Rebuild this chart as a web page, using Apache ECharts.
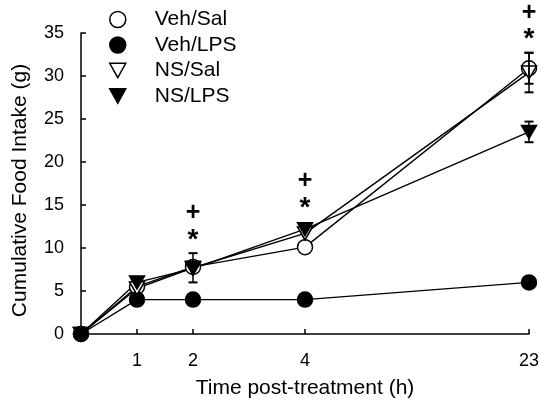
<!DOCTYPE html>
<html><head><meta charset="utf-8">
<script src="https://cdn.jsdelivr.net/npm/echarts@6/dist/echarts.min.js"></script>
<style>html,body{margin:0;padding:0;background:#fff}#c{width:541px;height:401px}</style>
</head><body><div id="c"></div>
<script>
// ---- data ----
const hours = [0, 1, 2, 4, 23];
const tickHours = [1, 2, 4, 23];
const seriesNames = ['Veh/Sal', 'Veh/LPS', 'NS/Sal', 'NS/LPS'];
const vehSal = [0, 5.5, 7.8, 10.1, 30.9];
const vehSalSem = [null, null, null, null, 1.8];
const vehLps = [0, 4.0, 4.0, 4.0, 6.0];
const vehLpsSem = [null, null, null, null, null];
const nsSal = [0, 5.3, 7.7, 11.7, 30.4];
const nsSalSem = [null, null, 1.7, null, 2.3];
const nsLps = [0, 6.0, 7.6, 12.2, 23.5];
const nsLpsSem = [null, null, null, null, 1.2];
const sigHours = [2, 4, 23];
const sigMarks = ['*', '+'];
const yMax = 35, yStep = 5;

// ---- layout: compressed time axis (first 4 h linear, 4-23 h squeezed) ----
function pos(h) { return h <= 4 ? h : 4 + (h - 4) * 4 / 19; }
const FONT = 'Liberation Sans';
const TRI = 'path://M0,0L20,0L10,18Z';

const values = [vehSal, vehLps, nsSal, nsLps];
const sems = [vehSalSem, vehLpsSem, nsSalSem, nsLpsSem];
const styles = [
  { symbol: 'circle', size: 15, fill: '#fff' },
  { symbol: 'circle', size: 15, fill: '#000' },
  { symbol: TRI, size: [15, 13], fill: '#fff' },
  { symbol: TRI, size: [15, 13], fill: '#000' }
];

const lineSeries = seriesNames.map((name, i) => ({
  name, type: 'line',
  data: hours.map((h, j) => [pos(h), values[i][j]]),
  symbol: styles[i].symbol, symbolSize: styles[i].size,
  showAllSymbol: true,
  itemStyle: { color: styles[i].fill, borderColor: '#000', borderWidth: 1.5, opacity: 1 },
  lineStyle: { color: '#000', width: 1.4 },
  emphasis: { disabled: true },
  z: 2
}));

const errData = [];
values.forEach((vals, i) => hours.forEach((h, j) => {
  if (sems[i][j] != null) errData.push([pos(h), vals[j], sems[i][j]]);
}));

const errSeries = {
  type: 'custom', data: errData, z: 5, silent: true,
  renderItem(params, api) {
    const x = api.value(0), y = api.value(1), e = api.value(2);
    const t = api.coord([x, y + e]), b = api.coord([x, y - e]);
    const w = 4.5, st = { stroke: '#000', lineWidth: 1.5 };
    return { type: 'group', children: [
      { type: 'line', shape: { x1: t[0], y1: t[1], x2: b[0], y2: b[1] }, style: st },
      { type: 'line', shape: { x1: t[0] - w, y1: t[1], x2: t[0] + w, y2: t[1] }, style: { stroke: '#000', lineWidth: 2 } },
      { type: 'line', shape: { x1: b[0] - w, y1: b[1], x2: b[0] + w, y2: b[1] }, style: { stroke: '#000', lineWidth: 2 } }
    ]};
  }
};

const sigData = sigHours.map(h => {
  const j = hours.indexOf(h);
  let topErr = -Infinity, topVal = -Infinity;
  values.forEach((vals, i) => {
    topVal = Math.max(topVal, vals[j]);
    topErr = Math.max(topErr, vals[j] + (sems[i][j] || 0));
  });
  return [pos(h), topErr, topVal];
});

const sigSeries = {
  type: 'custom', data: sigData, z: 6, silent: true,
  renderItem(params, api) {
    const x = api.value(0);
    const pe = api.coord([x, api.value(1)]);
    const pv = api.coord([x, api.value(2)]);
    const py = Math.min(pe[1], pv[1] - 7.5);
    return { type: 'group', children: [
      { type: 'text', x: pe[0], y: py - 13, style: { text: sigMarks[0], font: 'bold 28px ' + FONT, fill: '#000', align: 'center', verticalAlign: 'middle' } },
      { type: 'text', x: pe[0], y: py - 40, style: { text: sigMarks[1], font: 'bold 25px ' + FONT, fill: '#000', align: 'center', verticalAlign: 'middle' } }
    ]};
  }
};

const chart = echarts.init(document.getElementById('c'), null, { renderer: 'canvas' });
chart.setOption({
  animation: false,
  backgroundColor: '#fff',
  grid: { left: 81, right: 12, top: 33, bottom: 67, containLabel: false, outerBoundsMode: 'none' },
  legend: {
    orient: 'vertical', left: 104, top: 4, itemWidth: 16, itemHeight: 16, itemGap: 4.5,
    selectedMode: false,
    data: seriesNames.map((name, i) => ({
      name,
      icon: i < 2 ? 'circle' : TRI,
      itemStyle: { color: styles[i].fill, borderColor: '#000', borderWidth: 1.5 }
    })),
    formatter: n => '{t|' + n + '}',
    textStyle: { rich: { t: { fontFamily: FONT, fontSize: 21, color: '#000', padding: [0, 0, 0, 24], lineHeight: 21 } } }
  },
  xAxis: {
    type: 'value', min: 0, max: pos(23),
    name: 'Time post-treatment (h)', nameLocation: 'middle', nameGap: 44,
    nameTextStyle: { fontFamily: FONT, fontSize: 21, color: '#000' },
    axisLine: { show: true, onZero: false, lineStyle: { color: '#000', width: 1.5 } },
    axisTick: { show: true, inside: true, length: 5, lineStyle: { color: '#000', width: 1.5 }, customValues: tickHours.map(pos) },
    axisLabel: {
      fontFamily: FONT, fontSize: 18, color: '#000', margin: 18,
      customValues: tickHours.map(pos),
      formatter: v => { const h = tickHours.find(t => Math.abs(pos(t) - v) < 1e-6); return h == null ? '' : String(h); }
    },
    splitLine: { show: false }
  },
  yAxis: {
    type: 'value', min: 0, max: yMax, interval: yStep,
    name: 'Cumulative Food Intake (g)', nameLocation: 'middle', nameGap: 50, nameRotate: 90,
    nameTextStyle: { fontFamily: FONT, fontSize: 21, color: '#000', padding: [0, 14, 0, 0] },
    axisLine: { show: true, onZero: false, lineStyle: { color: '#000', width: 1.5 } },
    axisTick: { show: true, inside: true, length: 5, lineStyle: { color: '#000', width: 1.5 } },
    axisLabel: { fontFamily: FONT, fontSize: 18, color: '#000', margin: 17 },
    splitLine: { show: false }
  },
  series: [...lineSeries, errSeries, sigSeries]
});
</script></body></html>
